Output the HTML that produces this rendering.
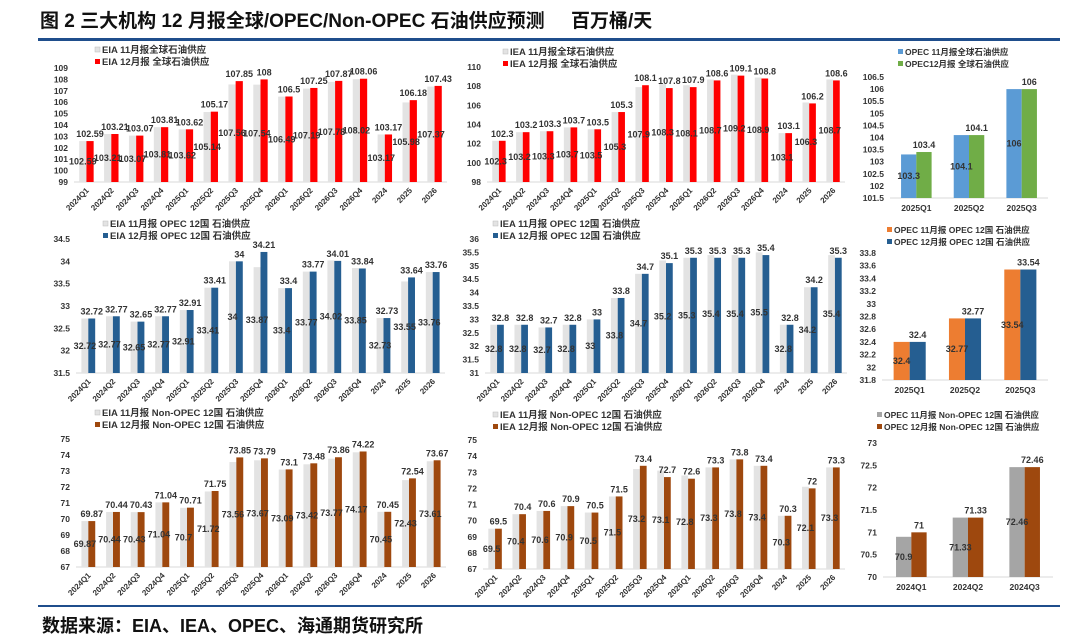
<!DOCTYPE html>
<html><head><meta charset="utf-8">
<style>
html,body{margin:0;padding:0;background:#fff;}
body{width:1080px;height:642px;overflow:hidden;position:relative;font-family:"Liberation Sans","Noto Sans CJK SC",sans-serif;}
#title{position:absolute;left:40px;top:6px;font-size:19px;font-weight:bold;color:#111;white-space:pre;font-family:"Liberation Sans","Noto Sans CJK SC",sans-serif;}
#topline{position:absolute;left:38px;top:38px;width:1022px;height:3px;background:#1f4e8c;}
#botline{position:absolute;left:38px;top:605px;width:1022px;height:2px;background:#1f4e8c;}
#source{position:absolute;left:42px;top:612px;font-size:18px;font-weight:bold;color:#111;font-family:"Liberation Sans","Noto Sans CJK SC",sans-serif;}
svg{position:absolute;left:0;top:0;}
</style></head>
<body>
<div id="title">图 2 三大机构 12 月报全球/OPEC/Non-OPEC 石油供应预测     百万桶/天</div>
<div id="topline"></div>
<svg id="chart" width="1080" height="642"></svg>
<div id="botline"></div>
<div id="source">数据来源：EIA、IEA、OPEC、海通期货研究所</div>
<script>
const catsLong = ["2024Q1","2024Q2","2024Q3","2024Q4","2025Q1","2025Q2","2025Q3","2025Q4","2026Q1","2026Q2","2026Q3","2026Q4","2024","2025","2026"];
const cats2025 = ["2025Q1","2025Q2","2025Q3"];
const cats2024 = ["2024Q1","2024Q2","2024Q3"];

const eiaGlobalNov = [102.59,103.21,103.07,103.81,103.62,105.14,107.56,107.54,106.49,107.19,107.78,108.02,103.17,105.98,107.37];
const eiaGlobalDec = [102.59,103.21,103.07,103.81,103.62,105.17,107.85,108,106.5,107.25,107.87,108.06,103.17,106.18,107.43];
const ieaGlobalNov = [102.3,103.2,103.3,103.7,103.5,105.3,107.9,108.3,108.1,108.7,109.2,108.9,103.1,106.3,108.7];
const ieaGlobalDec = [102.3,103.2,103.3,103.7,103.5,105.3,108.1,107.8,107.9,108.6,109.1,108.8,103.1,106.2,108.6];
const opecGlobalNov = [103.3,104.1,106];
const opecGlobalDec = [103.4,104.1,106];

const eiaOpecNov = [32.72,32.77,32.65,32.77,32.91,33.41,34,33.87,33.4,33.77,34.02,33.85,32.73,33.55,33.76];
const eiaOpecDec = [32.72,32.77,32.65,32.77,32.91,33.41,34,34.21,33.4,33.77,34.01,33.84,32.73,33.64,33.76];
const ieaOpecNov = [32.8,32.8,32.7,32.8,33,33.8,34.7,35.2,35.3,35.4,35.4,35.5,32.8,34.2,35.4];
const ieaOpecDec = [32.8,32.8,32.7,32.8,33,33.8,34.7,35.1,35.3,35.3,35.3,35.4,32.8,34.2,35.3];
const opecOpecNov = [32.4,32.77,33.54];
const opecOpecDec = [32.4,32.77,33.54];

const eiaNonNov = [69.87,70.44,70.43,71.04,70.7,71.72,73.56,73.67,73.09,73.42,73.77,74.17,70.45,72.43,73.61];
const eiaNonDec = [69.87,70.44,70.43,71.04,70.71,71.75,73.85,73.79,73.1,73.48,73.86,74.22,70.45,72.54,73.67];
const ieaNonNov = [69.5,70.4,70.6,70.9,70.5,71.5,73.2,73.1,72.8,73.3,73.8,73.4,70.3,72.1,73.3];
const ieaNonDec = [69.5,70.4,70.6,70.9,70.5,71.5,73.4,72.7,72.6,73.3,73.8,73.4,70.3,72,73.3];
const opecNonNov = [70.9,71.33,72.46];
const opecNonDec = [71,71.33,72.46];

const charts = [
 {id:"eia-global",cats:catsLong,a:eiaGlobalNov,b:eiaGlobalDec,min:99,max:109,step:1,L:74,R:447,T:68,B:182,ca:"#e3e3e3",cb:"#ff0000",
  leg:["EIA 11月报全球石油供应","EIA 12月报 全球石油供应"],lx:95,ly:53,rot:true,bw:0.29},
 {id:"iea-global",cats:catsLong,a:ieaGlobalNov,b:ieaGlobalDec,min:98,max:110,step:2,L:487,R:845,T:67,B:182,ca:"#e3e3e3",cb:"#ff0000",
  leg:["IEA 11月报全球石油供应","IEA 12月报 全球石油供应"],lx:503,ly:55,rot:true,bw:0.28},
 {id:"opec-global",cats:cats2025,a:opecGlobalNov,b:opecGlobalDec,min:101.5,max:106.5,step:0.5,L:890,R:1048,T:77,B:198,ca:"#5b9bd5",cb:"#70ad47",
  leg:["OPEC 11月报全球石油供应","OPEC12月报 全球石油供应"],lx:898,ly:55,rot:false,bw:0.29},
 {id:"eia-opec12",cats:catsLong,a:eiaOpecNov,b:eiaOpecDec,min:31.5,max:34.5,step:0.5,L:76,R:445,T:239,B:373,ca:"#e3e3e3",cb:"#255e91",
  leg:["EIA 11月报 OPEC 12国 石油供应","EIA 12月报 OPEC 12国 石油供应"],lx:103,ly:227,rot:true,bw:0.28},
 {id:"iea-opec12",cats:catsLong,a:ieaOpecNov,b:ieaOpecDec,min:31,max:36,step:0.5,L:485,R:847,T:239,B:373,ca:"#e3e3e3",cb:"#255e91",
  leg:["IEA 11月报 OPEC 12国 石油供应","IEA 12月报 OPEC 12国 石油供应"],lx:493,ly:227,rot:true,bw:0.28},
 {id:"opec-opec12",cats:cats2025,a:opecOpecNov,b:opecOpecDec,min:31.8,max:33.8,step:0.2,L:882,R:1048,T:253,B:380,ca:"#ed7d31",cb:"#255e91",
  leg:["OPEC 11月报 OPEC 12国 石油供应","OPEC 12月报 OPEC 12国 石油供应"],lx:887,ly:233,rot:false,bw:0.29},
 {id:"eia-nonopec",cats:catsLong,a:eiaNonNov,b:eiaNonDec,min:67,max:75,step:1,L:76,R:446,T:439,B:567,ca:"#e3e3e3",cb:"#9e480e",
  leg:["EIA 11月报 Non-OPEC 12国 石油供应","EIA 12月报 Non-OPEC 12国 石油供应"],lx:95,ly:416,rot:true,bw:0.28},
 {id:"iea-nonopec",cats:catsLong,a:ieaNonNov,b:ieaNonDec,min:67,max:75,step:1,L:483,R:845,T:440,B:569,ca:"#e3e3e3",cb:"#9e480e",
  leg:["IEA 11月报 Non-OPEC 12国 石油供应","IEA 12月报 Non-OPEC 12国 石油供应"],lx:493,ly:418,rot:true,bw:0.28},
 {id:"opec-nonopec",cats:cats2024,a:opecNonNov,b:opecNonDec,min:70,max:73,step:0.5,L:883,R:1053,T:443,B:577,ca:"#a5a5a5",cb:"#9e480e",
  leg:["OPEC 11月报 Non-OPEC 12国 石油供应","OPEC 12月报 Non-OPEC 12国 石油供应"],lx:877,ly:418,rot:false,bw:0.27}
];

const NS="http://www.w3.org/2000/svg";
const svg=document.getElementById("chart");
function mk(tag,attrs,parent){const e=document.createElementNS(NS,tag);for(const k in attrs)e.setAttribute(k,attrs[k]);(parent||svg).appendChild(e);return e;}
function fmt(v){return String(Number(v.toFixed(2)));}

charts.forEach(c=>{
  const g=mk("g",{});
  
  
  const y=v=>c.B-(v-c.min)/(c.max-c.min)*(c.B-c.T);
  const n=c.cats.length, cw=(c.R-c.L)/n;
  const x=i=>c.L+cw*(i+0.5);
  for(let v=c.min; v<=c.max+1e-9; v+=c.step){
    const t=mk("text",{x:c.L-6,y:y(v)+3,"text-anchor":"end","font-size":"8.5","font-weight":"bold",fill:"#333"},g);
    
    
    t.textContent=fmt(v);
  }
  const ax=mk("line",{x1:c.L,x2:c.R,y1:c.B,y2:c.B,stroke:"#d9d9d9","stroke-width":1},g);
  
  
  const bw=cw*c.bw;
  c.cats.forEach((cat,i)=>{
    const cx=x(i);
    const ya=y(c.a[i]), yb=y(c.b[i]);
    const ra=mk("rect",{x:cx-bw,y:ya,width:bw,height:c.B-ya,fill:c.ca},g);
    
    
    const rb=mk("rect",{x:cx,y:yb,width:bw,height:c.B-yb,fill:c.cb},g);
    
    
    const lb=mk("text",{x:cx+bw/2,y:yb-4,"text-anchor":"middle","font-size":"9","font-weight":"bold",fill:"#333"},g);
    
    
    lb.textContent=fmt(c.b[i]);
    const la=mk("text",{x:cx-bw/2,y:(ya+c.B)/2+3,"text-anchor":"middle","font-size":"9","font-weight":"bold",fill:"#333"},g);
    
    
    la.textContent=fmt(c.a[i]);
    let xl;
    if(c.rot){
      xl=mk("text",{x:cx+3,y:c.B+9,"text-anchor":"end","font-size":"8","font-weight":"bold",fill:"#333",transform:`rotate(-45 ${cx+3} ${c.B+9})`},g);
    } else {
      xl=mk("text",{x:cx,y:c.B+13,"text-anchor":"middle","font-size":"8.5","font-weight":"bold",fill:"#333"},g);
    }
    
    
    xl.textContent=cat;
  });
  [c.ca,c.cb].forEach((col,k)=>{
    const ly=c.ly+k*12;
    const m=mk("rect",{x:c.lx,y:ly-6,width:5,height:5,fill:col,stroke:k===0&&col==="#e3e3e3"?"#bbb":"none","stroke-width":0.5},g);
    
    
    const t=mk("text",{x:c.lx+7,y:ly,"font-size":c.rot?"9.5":"8.5","font-weight":"bold",fill:"#333"},g);
    
    
    t.setAttribute("font-family",'"Liberation Sans","Noto Sans CJK SC",sans-serif');
    t.textContent=c.leg[k];
  });
});
</script>
</body></html>
